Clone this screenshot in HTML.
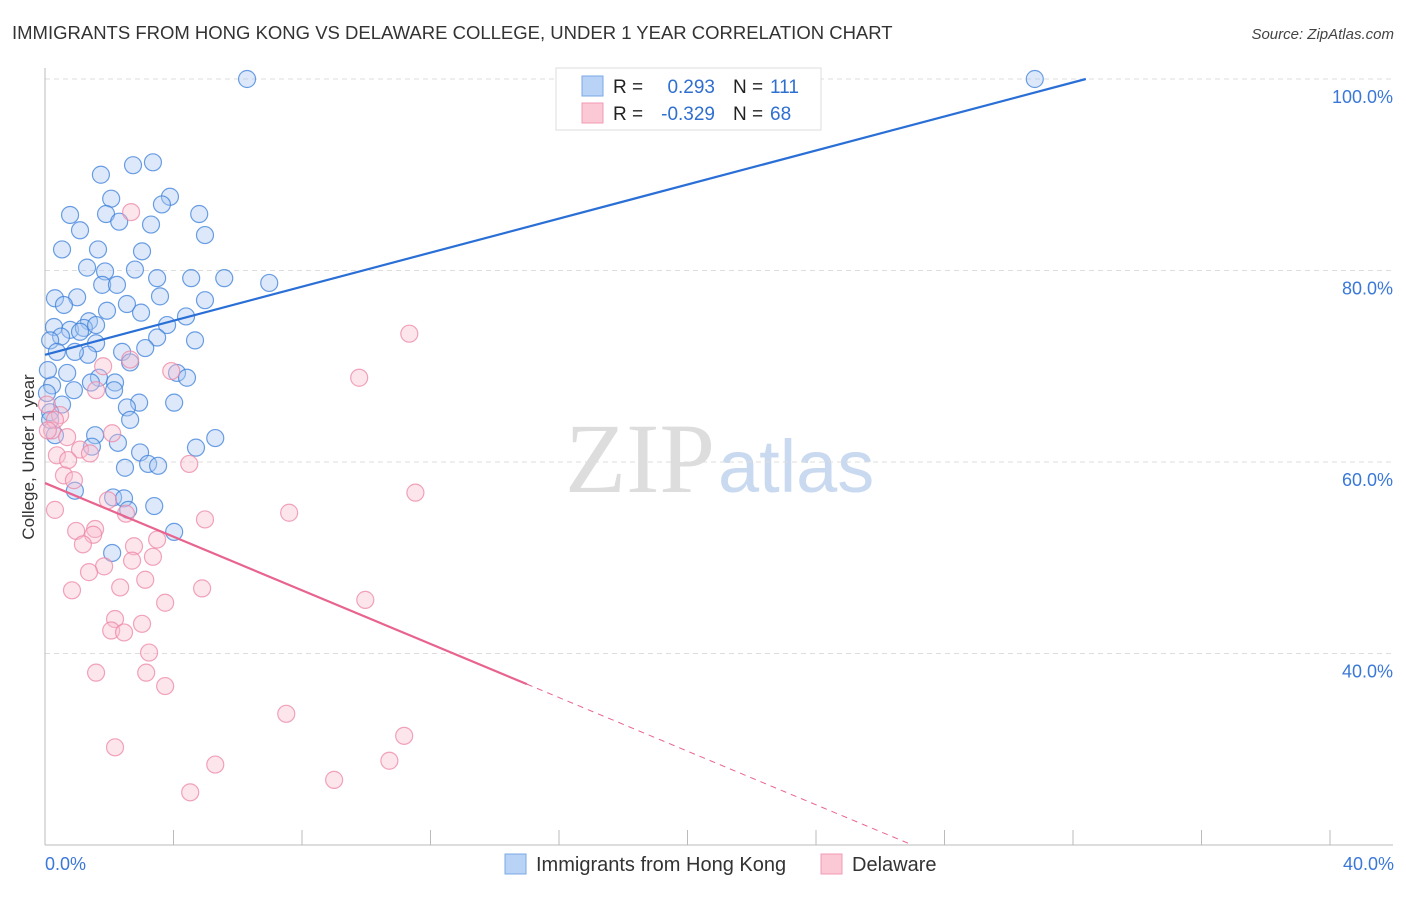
<!DOCTYPE html>
<html><head><meta charset="utf-8"><style>
body{margin:0;background:#fff;font-family:"Liberation Sans",sans-serif;}
</style></head><body>
<svg id="chart" width="1406" height="892" xmlns="http://www.w3.org/2000/svg" font-family="Liberation Sans, sans-serif">
<text x="12" y="39" font-size="18.5" fill="#333">IMMIGRANTS FROM HONG KONG VS DELAWARE COLLEGE, UNDER 1 YEAR CORRELATION CHART</text>
<text x="1394" y="39" font-size="15" fill="#444" text-anchor="end" font-style="italic">Source: ZipAtlas.com</text>
<text x="715" y="492" font-size="100" text-anchor="end" fill="#ddd" font-family="Liberation Serif, serif">ZIP</text>
<text x="718" y="492" font-size="74" fill="#c9d9f0">atlas</text>
<g id="grid"></g>
<g id="axes"></g>
<g id="points"></g>
<g id="lines"></g>
<text transform="translate(34,457) rotate(-90)" font-size="17" fill="#333" text-anchor="middle">College, Under 1 year</text>
<text x="45" y="870" font-size="18" fill="#3a78d8">0.0%</text>
<text x="1394" y="870" font-size="18" fill="#3a78d8" text-anchor="end">40.0%</text>
<g>
<rect x="556" y="68" width="265" height="62" fill="#fff" stroke="#ddd"/>
<rect x="582" y="76" width="21" height="20" fill="#b8d3f5" stroke="#7aa9e6"/>
<rect x="582" y="103" width="21" height="20" fill="#fbc8d6" stroke="#f09ab3"/>
<text x="613" y="93" font-size="19" fill="#222">R =</text>
<text x="715" y="93" font-size="19" fill="#2f6fd0" text-anchor="end">0.293</text>
<text x="733" y="93" font-size="19" fill="#222">N =</text>
<text x="770" y="93" font-size="19" fill="#2f6fd0">111</text>
<text x="613" y="120" font-size="19" fill="#222">R =</text>
<text x="715" y="120" font-size="19" fill="#2f6fd0" text-anchor="end">-0.329</text>
<text x="733" y="120" font-size="19" fill="#222">N =</text>
<text x="770" y="120" font-size="19" fill="#2f6fd0">68</text>
</g>
<g>
<rect x="505" y="854" width="21" height="20" fill="#b8d3f5" stroke="#7aa9e6"/>
<text x="536" y="871" font-size="20" fill="#333">Immigrants from Hong Kong</text>
<rect x="821" y="854" width="21" height="20" fill="#fbc8d6" stroke="#f09ab3"/>
<text x="852" y="871" font-size="20" fill="#333">Delaware</text>
</g>
</svg>
<script>
const yTicks=[100,80,60,40];
const yTickLabels=["100.0%","80.0%","60.0%","40.0%"];
const xTicks=[0,4,8,12,16,20,24,28,32,36,40];
const blueX=[6.29,30.81,3.36,2.74,1.74,3.89,2.06,3.64,0.78,1.90,4.80,2.31,1.09,3.30,4.98,1.65,3.02,0.53,1.31,2.80,1.87,4.55,3.49,5.58,6.98,1.78,2.24,0.31,1.00,3.58,1.93,4.98,0.59,2.55,1.37,2.99,4.39,3.80,0.28,0.78,1.21,1.59,1.09,0.50,0.16,3.49,1.59,4.67,2.40,3.12,0.37,1.34,0.93,2.65,0.69,4.11,4.42,1.68,2.18,1.43,0.22,0.90,2.15,0.53,2.93,2.55,4.02,0.16,2.65,0.31,1.56,5.30,2.27,1.46,2.96,4.70,2.49,3.21,3.52,0.93,2.12,2.46,3.40,2.59,4.02,2.09,0.09,0.16,0.06];
const blueY=[100,100,91.3,91.0,90.0,87.7,87.5,86.9,85.8,85.9,85.9,85.1,84.2,84.8,83.7,82.2,82.0,82.2,80.3,80.1,79.9,79.2,79.2,79.2,78.7,78.5,78.5,77.1,77.2,77.3,75.8,76.9,76.4,76.5,74.7,75.6,75.2,74.3,74.1,73.8,74.0,74.3,73.6,73.1,72.7,73.0,72.4,72.7,71.5,71.9,71.5,71.2,71.5,70.4,69.3,69.3,68.8,68.8,68.3,68.3,68.0,67.5,67.5,66.0,66.2,65.7,66.2,65.2,64.4,62.8,62.8,62.5,62.0,61.6,61.0,61.5,59.4,59.8,59.6,57.0,56.3,56.2,55.4,55.0,52.7,50.5,69.6,64.4,67.2];
const pinkX=[2.68,11.34,2.65,3.93,9.78,1.81,1.59,0.47,0.22,0.69,2.09,1.09,0.37,0.72,1.40,4.49,0.59,0.90,11.53,1.96,2.52,7.60,4.98,1.56,0.97,1.50,0.31,2.77,3.49,1.18,3.36,2.71,1.84,1.37,3.12,0.84,2.34,4.89,3.74,9.97,2.18,3.02,2.06,2.46,3.24,3.15,1.59,3.74,7.51,11.18,2.18,5.30,10.72,9.00,4.52,0.31,0.06,0.09];
const pinkY=[86.1,73.4,70.7,69.5,68.8,70.0,67.5,64.9,63.3,62.6,63.0,61.3,60.7,60.2,60.9,59.8,58.6,58.1,56.8,56.0,54.6,54.7,54.0,53.0,52.8,52.4,55.0,51.2,51.9,51.4,50.1,49.7,49.1,48.5,47.7,46.6,46.9,46.8,45.3,45.6,43.6,43.1,42.4,42.2,40.1,38.0,38.0,36.6,33.7,31.4,30.2,28.4,28.8,26.8,25.5,64.4,66.0,63.3];
const blueTrend=[0,71.2,32.4,100];
const pinkTrend=[0,57.8,15.0,36.8];
const pinkDashEnd=[27.0,20.0];

const NS="http://www.w3.org/2000/svg";
const X0=45,X1=1330,Y100=79,PER=9.575;
function sx(v){return X0+(X1-X0)*v/40;}
function sy(v){return Y100+(100-v)*PER;}
function mk(tag,attrs,parent){const e=document.createElementNS(NS,tag);for(const k in attrs)e.setAttribute(k,attrs[k]);parent.appendChild(e);return e;}
const grid=document.getElementById('grid'),axes=document.getElementById('axes'),pts=document.getElementById('points'),lines=document.getElementById('lines');
yTicks.forEach((t,i)=>{
 const l=mk('line',{x1:45,x2:1393,y1:sy(t),y2:sy(t),stroke:'#ddd','stroke-dasharray':'5,4'},grid);
 
 
 const tx=mk('text',{x:1393,y:sy(t)+24,'font-size':18,fill:'#3a78d8','text-anchor':'end'},grid);
 tx.textContent=yTickLabels[i];
 
 
});
const ya=mk('line',{x1:45,x2:45,y1:68,y2:845,stroke:'#bbb'},axes);


const xa=mk('line',{x1:45,x2:1393,y1:845,y2:845,stroke:'#bbb'},axes);


xTicks.forEach(t=>{
 const l=mk('line',{x1:sx(t),x2:sx(t),y1:830,y2:845,stroke:'#bbb'},axes);
 
 
});
function dots(xs,ys,fill,stroke,name){
 xs.forEach((x,i)=>{
  const c=mk('circle',{cx:sx(x),cy:sy(ys[i]),r:8.5,fill:fill,'fill-opacity':0.4,stroke:stroke,'stroke-width':1.2,'stroke-opacity':0.75},pts);
  
  
 });
}
dots(blueX,blueY,'#a9c8f2','#3b7fd9','hong-kong-point');
dots(pinkX,pinkY,'#f9bfd0','#ec86a5','delaware-point');
const bl=mk('line',{x1:sx(blueTrend[0]),y1:sy(blueTrend[1]),x2:sx(blueTrend[2]),y2:sy(blueTrend[3]),stroke:'#2a6fd6','stroke-width':2.2},lines);


const pl=mk('line',{x1:sx(pinkTrend[0]),y1:sy(pinkTrend[1]),x2:sx(pinkTrend[2]),y2:sy(pinkTrend[3]),stroke:'#e8648e','stroke-width':2.2},lines);


const pd=mk('line',{x1:sx(pinkTrend[2]),y1:sy(pinkTrend[3]),x2:sx(pinkDashEnd[0]),y2:sy(pinkDashEnd[1]),stroke:'#e8648e','stroke-width':1,'stroke-dasharray':'6,5'},lines);


</script>
</body></html>
